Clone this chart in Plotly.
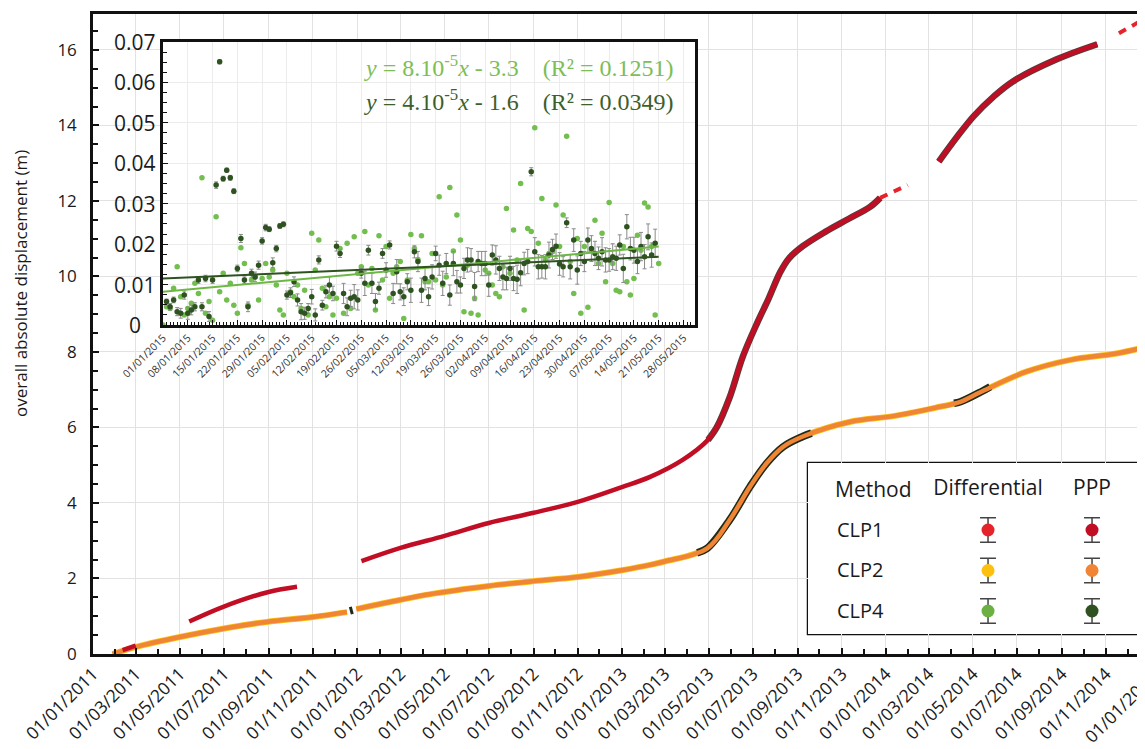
import plotly.graph_objects as go
import pandas as pd

# ---------------- main chart data ----------------
# CLP2 PPP (orange)
clp2_ppp_dates = ["2011-01-28", "2011-03-02", "2011-05-01", "2011-07-05", "2011-08-29", "2011-11-01", "2011-12-18", None,
                  "2011-12-31", "2012-02-29", "2012-04-10", "2012-07-01", "2012-09-01", "2012-11-01", "2013-01-01",
                  "2013-02-09", "2013-03-01", "2013-04-29", "2013-05-30", "2013-06-27", "2013-07-20", "2013-08-12",
                  "2013-09-08", "2013-11-13", "2014-01-11", "2014-03-10", "2014-04-14", "2014-05-12", "2014-07-13",
                  "2014-09-13", "2014-11-13", "2014-12-26"]
clp2_ppp_vals = [0.0, 0.19, 0.45, 0.69, 0.85, 0.98, 1.11, None,
                 1.19, 1.43, 1.58, 1.80, 1.93, 2.04, 2.22,
                 2.36, 2.45, 2.80, 3.55, 4.43, 5.05, 5.49,
                 5.76, 6.15, 6.30, 6.52, 6.68, 6.94, 7.47,
                 7.79, 7.95, 8.13]
# CLP2 Differential (yellow) follows the same path
clp2_diff_dates = clp2_ppp_dates
clp2_diff_vals = clp2_ppp_vals

# CLP4 PPP (dark green) where visible in the main panel
clp4_ppp_dates = ["2011-12-22", "2011-12-26", None,
                  "2013-04-15", "2013-04-29", "2013-05-30", "2013-06-27", "2013-07-20", "2013-08-12", "2013-09-08",
                  "2013-09-20", None,
                  "2014-04-05", "2014-04-14", "2014-05-12", "2014-05-25"]
clp4_ppp_vals = [1.14, 1.16, None,
                 2.68, 2.80, 3.55, 4.43, 5.05, 5.49, 5.76,
                 5.85, None,
                 6.64, 6.68, 6.94, 7.08]

# CLP1 PPP (dark red) solid segments
clp1_seg_a_dates = ["2011-02-11", "2011-03-01"]
clp1_seg_a_vals = [0.10, 0.22]
clp1_seg_b_dates = ["2011-05-14", "2011-06-30", "2011-08-29", "2011-10-10"]
clp1_seg_b_vals = [0.86, 1.25, 1.63, 1.78]
clp1_seg_c_dates = ["2012-01-07", "2012-03-01", "2012-05-01", "2012-07-01", "2012-09-01", "2012-11-01", "2013-01-01",
                    "2013-02-09", "2013-03-26", "2013-04-30", "2013-05-12", "2013-05-30", "2013-06-17", "2013-07-07",
                    "2013-07-22", "2013-08-08", "2013-08-20", "2013-09-08", "2013-10-09", "2013-11-10", "2013-12-10",
                    "2013-12-24"]
clp1_seg_c_vals = [2.46, 2.81, 3.13, 3.47, 3.74, 4.03, 4.42,
                   4.69, 5.14, 5.67, 6.00, 6.80, 7.87, 8.77,
                   9.38, 10.12, 10.48, 10.80, 11.18, 11.52, 11.84,
                   12.08]
clp1_seg_d_dates = ["2014-03-15", "2014-04-09", "2014-05-02", "2014-05-29", "2014-06-26", "2014-08-25", "2014-10-20"]
clp1_seg_d_vals = [13.04, 13.69, 14.24, 14.75, 15.17, 15.75, 16.15]
# CLP1 Differential (bright red) sparse parts
clp1_diff_dates = ["2013-12-24", "2014-01-31", None, "2014-11-19", "2014-12-26"]
clp1_diff_vals = [12.08, 12.42, None, 16.44, 16.84]

main_y_ticks = [0, 2, 4, 6, 8, 10, 12, 14, 16]

# ---------------- inset data (Jan-May 2015, daily) ----------------
inset_diff_start = "2015-01-01"
inset_diff_vals = [0.0, 0.0045, 0.0041, 0.0091, 0.0144, 0.0070, 0.0025, 0.0041, 0.0054, 0.0103,
                   0.0078, 0.0364, 0.0029, 0.0058, 0.0012, 0.0268, 0.0082, 0.0128, 0.0062, 0.0103,
                   0.0049, 0.0029, 0.0191, 0.0152, 0.0049, 0.0111, 0.0119, 0.0062, 0.0115, 0.0152,
                   0.0119, 0.0136, 0.0099, 0.0037, 0.0025, 0.0128, 0.0082, 0.0070, 0.0099, 0.0041,
                   0.0086, 0.0025, 0.0227, 0.0136, 0.0210, 0.0091, 0.0045, 0.0070, 0.0025, 0.0066,
                   0.0189, 0.0029, 0.0202, 0.0041, 0.0218, 0.0128, 0.0144, 0.0231, 0.0099, 0.0140,
                   0.0037, 0.0221, 0.0111, 0.0194, 0.0066, 0.0128, 0.0144, 0.0157, 0.0016, 0.0111,
                   0.0224, 0.0189, 0.0162, 0.0221, 0.0107, 0.0107, 0.0177, 0.0111, 0.0317, 0.0099,
                   0.0119, 0.0340, 0.0183, 0.0272, 0.0210, 0.0033, 0.0148, 0.0029, 0.0066, 0.0025,
                   0.0152, 0.0136, 0.0128, 0.0099, 0.0078, 0.0070, 0.0144, 0.0288, 0.0128, 0.0235,
                   0.0161, 0.0350, 0.0037, 0.0239, 0.0231, 0.0488, 0.0202, 0.0313, 0.0161, 0.0177,
                   0.0181, 0.0297, 0.0194, 0.0272, 0.0467, 0.0157, 0.0078, 0.0214, 0.0029, 0.0194,
                   0.0044, 0.0185, 0.0259, 0.0152, 0.0227, 0.0107, 0.0303, 0.0152, 0.0086, 0.0082,
                   0.0194, 0.0107, 0.0074, 0.0115, 0.0222, 0.0185, 0.0302, 0.0292, 0.0194, 0.0025,
                   0.0152]
inset_ppp_start = "2015-01-02"
inset_ppp_vals = [0.0058, 0.0045, 0.0062, 0.0033, 0.0029, 0.0074, 0.0029, 0.0037, 0.0045, 0.0111,
                  0.0045, 0.0115, 0.0021, 0.0111, 0.0346, 0.0651, 0.0362, 0.0383, 0.0364, 0.0331,
                  0.0140, 0.0214, 0.0111, 0.0045, 0.0128, 0.0119, 0.0148, 0.0208, 0.0241, 0.0237,
                  0.0154, 0.0189, 0.0245, 0.0249, 0.0074, 0.0080, 0.0107, 0.0062, 0.0033, 0.0029,
                  0.0041, 0.0070, 0.0025, 0.0161, 0.0049, 0.0082, 0.0099, 0.0078, 0.0195, 0.0177,
                  0.0078, 0.0045, 0.0066, 0.0070, 0.0062, 0.0128, 0.0103, 0.0185, 0.0103, 0.0058,
                  0.0091, 0.0177, 0.0136, 0.0198, 0.0078, 0.0132, 0.0082, 0.0070, 0.0107, 0.0086,
                  0.0181, 0.0157, 0.0086, 0.0115, 0.0070, 0.0119, 0.0177, 0.0148, 0.0103, 0.0152,
                  0.0074, 0.0152, 0.0107, 0.0099, 0.0140, 0.0161, 0.0161, 0.0095, 0.0157, 0.0152,
                  0.0152, 0.0099, 0.0173, 0.0161, 0.0140, 0.0119, 0.0115, 0.0140, 0.0115, 0.0113,
                  0.0129, 0.0152, 0.0157, 0.0379, 0.0181, 0.0144, 0.0144, 0.0144, 0.0173, 0.0187,
                  0.0195, 0.0151, 0.0144, 0.0253, 0.0144, 0.0210, 0.0136, 0.0177, 0.0157, 0.0210,
                  0.0189, 0.0177, 0.0165, 0.0181, 0.0161, 0.0161, 0.0169, 0.0165, 0.0198, 0.0140,
                  0.0243, 0.0189, 0.0185, 0.0157, 0.0194, 0.0169, 0.0218, 0.0173, 0.0202]
inset_ppp_err = [0.0006, 0.0008, 0.0007, 0.0010, 0.0012, 0.0010, 0.0015, 0.0012, 0.0010, 0.0008,
                 0.0010, 0.0008, 0.0012, 0.0008, 0.0008, 0.0005, 0.0006, 0.0005, 0.0006, 0.0006,
                 0.0008, 0.0010, 0.0008, 0.0012, 0.0010, 0.0012, 0.0010, 0.0008, 0.0008, 0.0006,
                 0.0012, 0.0008, 0.0006, 0.0006, 0.0010, 0.0012, 0.0012, 0.0015, 0.0020, 0.0015,
                 0.0012, 0.0018, 0.0015, 0.0010, 0.0012, 0.0015, 0.0020, 0.0018, 0.0012, 0.0010,
                 0.0025, 0.0022, 0.0020, 0.0030, 0.0025, 0.0012, 0.0030, 0.0012, 0.0025, 0.0020,
                 0.0015, 0.0012, 0.0018, 0.0010, 0.0025, 0.0030, 0.0020, 0.0022, 0.0020, 0.0030,
                 0.0015, 0.0025, 0.0030, 0.0028, 0.0022, 0.0030, 0.0018, 0.0025, 0.0030, 0.0025,
                 0.0025, 0.0030, 0.0028, 0.0020, 0.0025, 0.0030, 0.0028, 0.0035, 0.0025, 0.0030,
                 0.0030, 0.0028, 0.0025, 0.0035, 0.0030, 0.0032, 0.0028, 0.0030, 0.0030, 0.0035,
                 0.0032, 0.0028, 0.0030, 0.0010, 0.0035, 0.0030, 0.0028, 0.0030, 0.0032, 0.0025,
                 0.0030, 0.0028, 0.0025, 0.0012, 0.0030, 0.0028, 0.0035, 0.0030, 0.0025, 0.0030,
                 0.0032, 0.0030, 0.0028, 0.0035, 0.0030, 0.0028, 0.0032, 0.0030, 0.0025, 0.0035,
                 0.0030, 0.0028, 0.0032, 0.0030, 0.0035, 0.0030, 0.0032, 0.0030, 0.0035]
trend_dates = ["2015-01-01", "2015-05-21"]
trend_diff_vals = [0.0082, 0.0194]
trend_ppp_vals = [0.0115, 0.0169]
inset_y_ticks = [0, 0.01, 0.02, 0.03, 0.04, 0.05, 0.06, 0.07]
inset_y_labels = ["0", "0.01", "0.02", "0.03", "0.04", "0.05", "0.06", "0.07"]
eq_diff = "<i>y</i> = 8.10<sup>-5</sup><i>x</i> - 3.3\u00a0\u00a0\u00a0\u00a0(R² = 0.1251)"
eq_ppp = "<i>y</i> = 4.10<sup>-5</sup><i>x</i> - 1.6\u00a0\u00a0\u00a0\u00a0(R² = 0.0349)"

# ---------------- legend key ----------------
methods = ["Differential", "PPP"]
stations = ["CLP4", "CLP2", "CLP1"]
colors = {
    ("CLP1", "Differential"): "#E5232A", ("CLP1", "PPP"): "#C20E25",
    ("CLP2", "Differential"): "#FDC010", ("CLP2", "PPP"): "#EF8535",
    ("CLP4", "Differential"): "#6CB043", ("CLP4", "PPP"): "#2F5220",
}

inset_diff_dates = pd.date_range(inset_diff_start, periods=len(inset_diff_vals), freq="D")
inset_ppp_dates = pd.date_range(inset_ppp_start, periods=len(inset_ppp_vals), freq="D")

fig = go.Figure()
SM = 1.0

# ---- main panel traces ----
fig.add_trace(go.Scatter(x=clp2_diff_dates, y=clp2_diff_vals, mode="lines", connectgaps=False,
                         line=dict(color=colors[("CLP2", "Differential")], width=6, shape="spline", smoothing=SM),
                         hoverinfo="skip"))
fig.add_trace(go.Scatter(x=clp4_ppp_dates, y=clp4_ppp_vals, mode="lines", connectgaps=False,
                         line=dict(color="#1f2a17", width=7.5, shape="spline", smoothing=SM), hoverinfo="skip"))
fig.add_trace(go.Scatter(x=clp2_ppp_dates, y=clp2_ppp_vals, mode="lines", connectgaps=False,
                         line=dict(color=colors[("CLP2", "PPP")], width=4.5, shape="spline", smoothing=SM)))

# outline (error bars) under steep CLP1 parts
outline_dates = clp1_seg_c_dates[9:] + [None] + clp1_seg_d_dates
outline_vals = clp1_seg_c_vals[9:] + [None] + clp1_seg_d_vals
fig.add_trace(go.Scatter(x=outline_dates, y=outline_vals, mode="lines", connectgaps=False,
                         line=dict(color="#5a3a3a", width=6.5, shape="spline", smoothing=SM), hoverinfo="skip"))
clp1_dates = clp1_seg_a_dates + [None] + clp1_seg_b_dates + [None] + clp1_seg_c_dates + [None] + clp1_seg_d_dates
clp1_vals = clp1_seg_a_vals + [None] + clp1_seg_b_vals + [None] + clp1_seg_c_vals + [None] + clp1_seg_d_vals
fig.add_trace(go.Scatter(x=clp1_dates, y=clp1_vals, mode="lines", connectgaps=False,
                         line=dict(color=colors[("CLP1", "PPP")], width=4.5, shape="spline", smoothing=SM)))
fig.add_trace(go.Scatter(x=clp1_diff_dates, y=clp1_diff_vals, mode="lines", connectgaps=False,
                         line=dict(color=colors[("CLP1", "Differential")], width=4, dash="8px,7px")))

# ---- inset traces ----
fig.add_trace(go.Scatter(x=inset_diff_dates, y=inset_diff_vals, mode="markers", xaxis="x2", yaxis="y2",
                         marker=dict(color="#72BE4E", size=5.5)))
fig.add_trace(go.Scatter(x=inset_ppp_dates, y=inset_ppp_vals, mode="markers", xaxis="x2", yaxis="y2",
                         marker=dict(color="#2E5220", size=5.5),
                         error_y=dict(type="data", array=inset_ppp_err, color="#8a8a8a", thickness=1, width=2)))
fig.add_trace(go.Scatter(x=trend_dates, y=trend_diff_vals, mode="lines", xaxis="x2", yaxis="y2",
                         line=dict(color="#6DB845", width=2)))
fig.add_trace(go.Scatter(x=trend_dates, y=trend_ppp_vals, mode="lines", xaxis="x2", yaxis="y2",
                         line=dict(color="#2E5220", width=2)))

# ---- legend key traces ----
for st in ["CLP1", "CLP2", "CLP4"]:
    for m in methods:
        fig.add_trace(go.Scatter(x=[methods.index(m)], y=[stations.index(st)], mode="markers",
                                 xaxis="x3", yaxis="y3",
                                 marker=dict(color=colors[(st, m)], size=13),
                                 error_y=dict(type="constant", value=0.3, color="#444", thickness=1.5, width=8)))

# geometry: page pixels of the 1145x749 picture (page body has an 8px margin)
W, H = 1145, 749
OFF = 8
Lp, Rp, Tp, Bp = 93, 1145, 14, 654
pw, ph = Rp - Lp, Bp - Tp

def px(xp):
    return (xp - Lp) / pw

def py(yp):
    return (Bp - yp) / ph

axis_font = dict(family="Open Sans", size=17, color="#1a1a1a")
xtick_font = dict(family="Open Sans", size=17.5, color="#1a1a1a")

annotations = [
    dict(text=eq_diff, xref="paper", yref="paper", x=px(676), y=py(66), xanchor="right", yanchor="middle",
         showarrow=False, font=dict(family="Liberation Serif", size=24, color="#7DBE55")),
    dict(text=eq_ppp, xref="paper", yref="paper", x=px(676), y=py(100), xanchor="right", yanchor="middle",
         showarrow=False, font=dict(family="Liberation Serif", size=24, color="#3D5F2B")),
    dict(text="Method", xref="paper", yref="paper", x=px(873), y=py(489), xanchor="center", yanchor="middle",
         showarrow=False, font=dict(family="Open Sans", size=21, color="#1a1a1a")),
    dict(text="overall absolute displacement (m)", xref="paper", yref="paper", x=px(20), y=py(284),
         xanchor="center", yanchor="middle", textangle=-90, showarrow=False,
         font=dict(family="Open Sans", size=17, color="#1a1a1a")),
    dict(text="01/01/2015", xref="paper", yref="paper", x=px(1165), y=0, yshift=-8,
         xanchor="right", yanchor="top", textangle=-45, showarrow=False, font=xtick_font),
]
for v, lab in zip(inset_y_ticks, inset_y_labels):
    annotations.append(dict(text=lab, xref="paper", yref="y2", x=px(135), y=v, xanchor="center",
                            yanchor="middle", showarrow=False,
                            font=dict(family="Open Sans", size=21, color="#1a1a1a")))

fig.update_layout(
    width=W, height=H,
    margin=dict(l=Lp - OFF, r=W - (Rp - OFF), t=Tp - OFF, b=H - (Bp - OFF)),
    paper_bgcolor="white", plot_bgcolor="white",
    showlegend=False,
    font=dict(family="Open Sans", color="#1a1a1a"),
    xaxis=dict(type="date", range=["2011-01-01", "2014-12-25"], domain=[0, 1], automargin=False,
               tick0="2011-01-01", dtick="M2", tickformat="%d/%m/%Y", tickangle=-45,
               tickfont=xtick_font,
               ticks="inside", ticklen=6, tickwidth=1.5, tickcolor="#111",
               showline=True, linecolor="#111", linewidth=2.5, mirror=True,
               showgrid=True, gridcolor="#e2e2e2", gridwidth=1, zeroline=False,
               minor=dict(dtick="M1", ticks="inside", ticklen=5, tickwidth=1.5, tickcolor="#111", showgrid=False)),
    yaxis=dict(range=[0, 16.95], domain=[0, 1], tickvals=main_y_ticks, tickfont=axis_font, automargin=False,
               ticks="inside", ticklen=6, tickwidth=1.5, tickcolor="#111", ticklabelstandoff=10,
               showline=True, linecolor="#111", linewidth=2.5, mirror=False,
               showgrid=True, gridcolor="#e2e2e2", gridwidth=1, zeroline=False,
               minor=dict(dtick=0.5, ticks="inside", ticklen=5, tickwidth=1.5, tickcolor="#111", showgrid=False)),
    xaxis2=dict(type="date", domain=[px(163), px(695)], anchor="y2", automargin=False,
                range=["2015-01-01", "2015-05-31 06:00"],
                tick0="2015-01-01", dtick=7 * 86400000, tickformat="%d/%m/%Y", tickangle=-45,
                tickfont=dict(family="Open Sans", size=10.5, color="#333"),
                ticks="inside", ticklen=5, tickwidth=1.2, tickcolor="#111",
                showline=True, linecolor="#111", linewidth=2.5, mirror=True,
                showgrid=True, gridcolor="#ececec", gridwidth=1, zeroline=False,
                minor=dict(dtick=86400000, ticks="inside", ticklen=3.5, tickwidth=1, tickcolor="#111", showgrid=False)),
    yaxis2=dict(domain=[py(325), py(42)], anchor="x2", range=[0, 0.07], tickvals=inset_y_ticks,
                showticklabels=False, automargin=False,
                ticks="inside", ticklen=5, tickwidth=1.2, tickcolor="#111",
                showline=True, linecolor="#111", linewidth=2.5, mirror=True,
                showgrid=True, gridcolor="#ececec", gridwidth=1, zeroline=False,
                minor=dict(dtick=0.0025, ticks="inside", ticklen=4, tickwidth=1, tickcolor="#111", showgrid=False)),
    xaxis3=dict(domain=[px(808), px(1138)], anchor="y3", range=[-1.731, 1.442], automargin=False,
                tickvals=[0, 1], ticktext=methods, side="top", ticklabelposition="inside",
                ticklabelstandoff=14, ticks="", tickfont=dict(family="Open Sans", size=21, color="#1a1a1a"),
                showline=False, showgrid=False, zeroline=False),
    yaxis3=dict(domain=[py(634), py(463)], anchor="x3", range=[-0.568, 3.654], automargin=False,
                tickvals=[0, 1, 2], ticktext=stations, ticklabelposition="inside",
                ticklabelstandoff=26, ticks="", tickfont=dict(family="Open Sans", size=20, color="#1a1a1a"),
                showline=False, showgrid=False, zeroline=False),
    shapes=[
        dict(type="rect", xref="x2 domain", yref="y2 domain", x0=0, x1=1, y0=0, y1=1,
             fillcolor="white", line=dict(width=0), layer="below"),
        dict(type="rect", xref="x3 domain", yref="y3 domain", x0=0, x1=1, y0=0, y1=1,
             fillcolor="white", line=dict(color="#111", width=2.5), layer="below"),
    ],
    annotations=annotations,
)

fig.write_html("out.html")
